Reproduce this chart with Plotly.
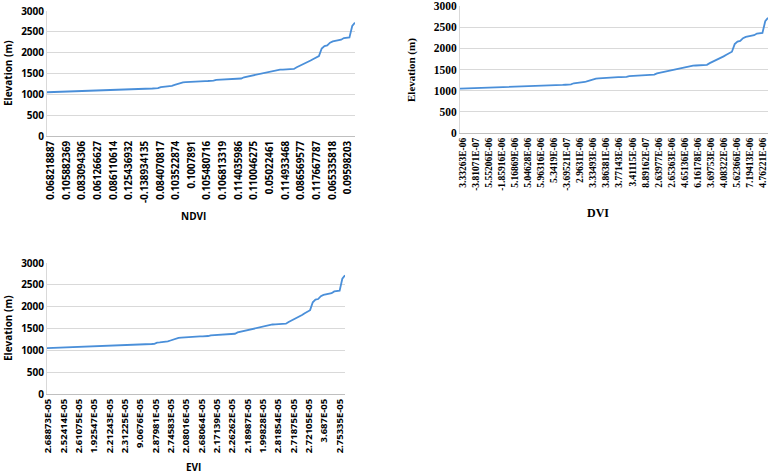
import plotly.graph_objects as go

W, H = 771, 474

elevation = [
    1050, 1052, 1054, 1056,
    1068, 1070, 1071, 1072, 1073, 1074, 1075, 1076,
    1082, 1083, 1084, 1085, 1086, 1087, 1088, 1089, 1090,
    1098, 1099, 1100, 1101, 1102, 1103, 1104, 1106, 1108, 1110,
    1118, 1120, 1122, 1124, 1126, 1128,
    1136, 1140, 1145, 1150,
    1175, 1180, 1185, 1195, 1205,
    1225, 1250, 1270, 1285, 1292,
    1298, 1302, 1305, 1308, 1310,
    1314, 1318, 1320, 1322, 1328,
    1345, 1350, 1354, 1358, 1362, 1366, 1370,
    1375, 1378, 1380,
    1410, 1425, 1435, 1445, 1460,
    1480, 1495, 1505, 1515, 1530,
    1550, 1570, 1585, 1592,
    1595, 1598, 1600, 1605, 1610,
    1650, 1680, 1710, 1740, 1770, 1810, 1850,
    1890, 1920, 2100, 2160, 2175,
    2240, 2270, 2280,
    2290, 2310,
    2350, 2360, 2365,
    2640, 2720,
]

ndvi_labels = ["0.068218887", "0.105882369", "0.083094306", "0.061266627", "0.086110614",
               "0.125436932", "-0.138934135", "0.084070817", "0.103522874", "0.1007891",
               "0.105480716", "0.106813319", "0.114035986", "0.110046275", "0.05022461",
               "0.114933468", "0.086569577", "0.117667787", "0.065335818", "0.09598203"]
dvi_labels = ["3.33263E-06", "-3.81071E-07", "5.55206E-06", "-1.85916E-06", "5.16869E-06",
              "5.04628E-06", "5.96316E-06", "5.3419E-06", "-3.69521E-07", "2.9631E-06",
              "3.33493E-06", "3.86381E-06", "3.77143E-06", "3.41115E-06", "8.89162E-07",
              "2.63977E-06", "2.65363E-06", "4.65136E-06", "6.16178E-06", "3.69753E-06",
              "4.08322E-06", "5.62366E-06", "7.19413E-06", "4.76221E-06"]
evi_labels = ["2.68873E-05", "2.52414E-05", "2.61075E-05", "1.92547E-05", "2.21243E-05",
              "2.31225E-05", "9.0676E-05", "2.87981E-05", "2.74583E-05", "2.08016E-05",
              "2.68064E-05", "2.17139E-05", "2.26262E-05", "2.18987E-05", "1.99828E-05",
              "2.81854E-05", "2.71875E-05", "2.72105E-05", "3.687E-05", "2.75335E-05"]

idx = list(range(len(elevation)))
N = len(elevation)


def spread(labels, a, b):
    n = len(labels)
    return [a + (b - a) * i / (n - 1) for i in range(n)]


LINE = "#4a8fd9"
GRID = "#d9d9d9"

panels = [
    dict(name="NDVI", labels=ndvi_labels, box=(47, 355, 11, 136),
         font="Open Sans", tfs=9.8, ytfs=10, xr=(1.4, 108.5), ytitle=(8, 73), ytsize=10,
         xtitle=(193, 216), xtsize=10),
    dict(name="DVI", labels=dvi_labels, box=(460, 768, 6, 133),
         font="Liberation Serif", tfs=9.5, ytfs=11.5, xr=(1.1, 109.1), ytitle=(412, 70), ytsize=11,
         xtitle=(598, 213), xtsize=12),
    dict(name="EVI", labels=evi_labels, box=(47, 345, 263, 394),
         font="Open Sans", tfs=9.5, ytfs=10, xr=(0.4, 109.0), ytitle=(8, 328), ytsize=10,
         xtitle=(193, 467), xtsize=10),
]


def px(x):
    return x / W


def py(y):
    return 1 - y / H


fig = go.Figure()
annotations = []
for i, p in enumerate(panels):
    sfx = "" if i == 0 else str(i + 1)
    x0, x1, y0, y1 = p["box"]
    fig.add_trace(go.Scatter(x=idx, y=elevation, mode="lines",
                             line=dict(color=LINE, width=1.8),
                             xaxis="x" + sfx, yaxis="y" + sfx, showlegend=False))
    fig.layout["xaxis" + sfx] = dict(
        domain=[px(x0), px(x1)], anchor="y" + sfx, range=[0, N - 1],
        tickmode="array", tickvals=spread(p["labels"], *p["xr"]), ticktext=p["labels"],
        tickangle=-90, tickfont=dict(family=p["font"], size=p["tfs"], color="#000", weight="bold"),
        showgrid=False, zeroline=False, showline=True, linecolor="#bfbfbf", linewidth=1,
        ticks="", automargin=False)
    fig.layout["yaxis" + sfx] = dict(
        domain=[py(y1), py(y0)], anchor="x" + sfx, range=[0, 3000], dtick=500,
        tickfont=dict(family=p["font"], size=p["ytfs"], color="#000", weight="bold"),
        showgrid=True, gridcolor=GRID, gridwidth=1, zeroline=False,
        showline=True, linecolor=GRID, linewidth=1, ticks="", automargin=False)
    annotations.append(dict(text="Elevation (m)", x=px(p["ytitle"][0]), y=py(p["ytitle"][1]),
                            xref="paper", yref="paper", showarrow=False, textangle=-90,
                            xanchor="center", yanchor="middle",
                            font=dict(family=p["font"], size=p["ytsize"], color="#000", weight="bold")))
    annotations.append(dict(text=p["name"], x=px(p["xtitle"][0]), y=py(p["xtitle"][1]),
                            xref="paper", yref="paper", showarrow=False,
                            xanchor="center", yanchor="middle",
                            font=dict(family=p["font"], size=p["xtsize"], color="#000", weight="bold")))

fig.update_layout(width=W, height=H, margin=dict(l=0, r=0, t=0, b=0),
                  paper_bgcolor="white", plot_bgcolor="white", annotations=annotations)
fig.write_html("out.html", config={"displayModeBar": False},
               post_script="document.body.style.margin='0px';document.body.style.overflow='hidden';")
